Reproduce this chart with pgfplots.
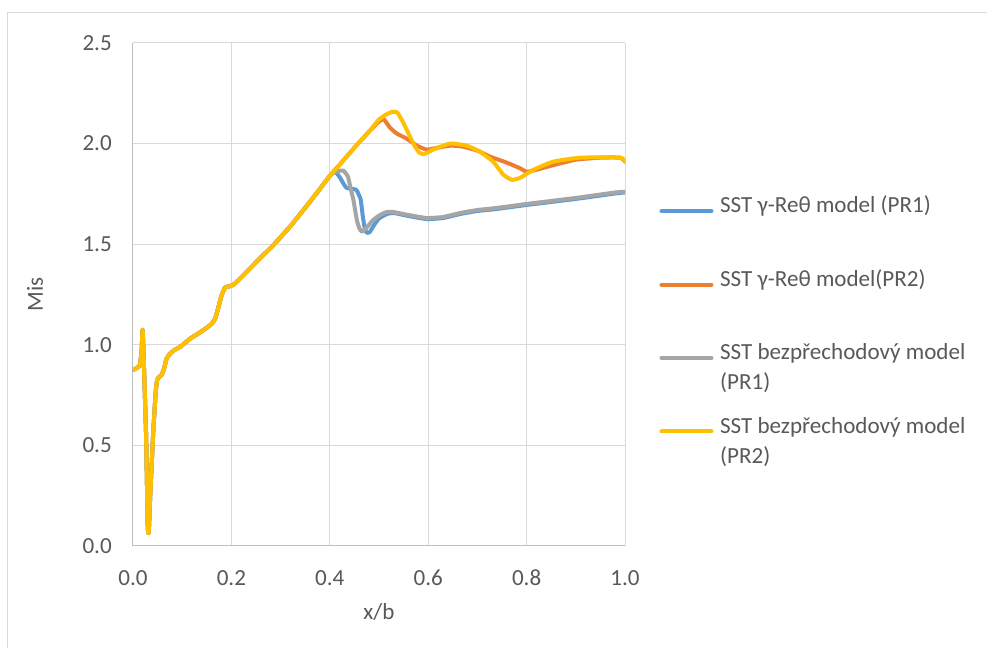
\documentclass[border=0pt]{standalone}
\usepackage{fontspec}
\setmainfont{Carlito}
\usepackage{pgfplots}
\pgfplotsset{compat=1.18}
\definecolor{cblue}{HTML}{5B9BD5}
\definecolor{corange}{HTML}{ED7D31}
\definecolor{cgray}{HTML}{A5A5A5}
\definecolor{cyellow}{HTML}{FFC000}
\definecolor{gridc}{HTML}{D9D9D9}
\definecolor{axisc}{HTML}{BFBFBF}
\definecolor{txtc}{HTML}{595959}
\begin{document}
\begin{tikzpicture}
\useasboundingbox (-99.75pt,-76.5pt) rectangle (640.5pt,409.5pt);
\fill[white] (-99.75pt,-76.5pt) rectangle (640.5pt,409.5pt);
\draw[gridc, line width=0.75pt] (-93.75pt,-120pt) -- (-93.75pt,399.75pt) -- (700pt,399.75pt);
\begin{axis}[
  at={(0,0)}, anchor=south west,
  scale only axis, width=369pt, height=377.25pt,
  xmin=0, xmax=1, ymin=0, ymax=2.5,
  xtick={0,0.2,...,1.0}, ytick={0,0.5,...,2.5},
  axis x line*=bottom, axis y line*=left,
  axis line style={axisc, line width=0.75pt},
  grid=major, major grid style={gridc, line width=0.75pt},
  major tick length=0pt,
  font=\fontsize{17.3pt}{22.5pt}\selectfont,
  tick label style={txtc},
  /pgf/number format/assume math mode=true,
  /pgf/number format/.cd, fixed, fixed zerofill, precision=1, /pgfplots/.cd,
  xticklabel style={anchor=center, yshift=-24pt},
  yticklabel style={anchor=east, inner sep=0pt, xshift=-15.75pt},
  xlabel={x/b}, ylabel={Mis},
  label style={txtc},
  xlabel style={at={(axis description cs:0.5,-0.131)}, anchor=center},
  ylabel style={at={(axis description cs:-0.199,0.5)}, anchor=center},
  legend cell align=left,
  legend style={at={(axis description cs:1.0695,0.7045)}, anchor=north west, draw=none, fill=none, inner sep=0pt,
    row sep=15.3pt, column sep=5pt, text=txtc,
    nodes={inner sep=0pt, align=left}},
  legend image code/.code={\draw[#1] (0pt,5.4pt) -- (37.5pt,5.4pt);},
  every axis plot/.append style={line width=3pt, line join=round, line cap=round, smooth, tension=0.3},
]
% SST gamma-Re theta (PR1)
\addplot[cblue] coordinates {
(0,0.875) (0.008,0.885) (0.014,0.90) (0.0175,0.97) (0.0195,1.075) (0.0215,0.95) (0.0265,0.56) (0.030,0.10) (0.032,0.07) (0.035,0.25) (0.041,0.56) (0.046,0.76) (0.049,0.825) (0.053,0.84) (0.058,0.85) (0.063,0.88) (0.068,0.93) (0.075,0.955) (0.085,0.975) (0.096,0.99) (0.116,1.03) (0.135,1.06) (0.15,1.085) (0.16,1.105) (0.167,1.13) (0.174,1.19) (0.18,1.245) (0.187,1.285) (0.195,1.29) (0.205,1.30) (0.22,1.335) (0.238,1.38) (0.26,1.435) (0.285,1.495) (0.32,1.59) (0.353,1.69) (0.38,1.775) (0.4,1.84)
(0.41,1.86) (0.415,1.85) (0.421,1.83) (0.428,1.80) (0.434,1.78) (0.445,1.775) (0.454,1.77) (0.46,1.74) (0.463,1.72) (0.467,1.64) (0.471,1.58) (0.475,1.557) (0.481,1.56) (0.49,1.595) (0.5,1.628) (0.516,1.65) (0.53,1.655) (0.56,1.64) (0.597,1.625) (0.63,1.63) (0.665,1.65) (0.7,1.665) (0.739,1.675) (0.8,1.695) (0.9,1.725) (0.98,1.752) (1.0,1.757)
};
\addlegendentry{\strut SST γ-Reθ model (PR1)\\\strut}
% SST gamma-Re theta (PR2)
\addplot[corange] coordinates {
(0,0.875) (0.008,0.885) (0.014,0.90) (0.0175,0.97) (0.0195,1.075) (0.0215,0.95) (0.0265,0.56) (0.030,0.10) (0.032,0.07) (0.035,0.25) (0.041,0.56) (0.046,0.76) (0.049,0.825) (0.053,0.84) (0.058,0.85) (0.063,0.88) (0.068,0.93) (0.075,0.955) (0.085,0.975) (0.096,0.99) (0.116,1.03) (0.135,1.06) (0.15,1.085) (0.16,1.105) (0.167,1.13) (0.174,1.19) (0.18,1.245) (0.187,1.285) (0.195,1.29) (0.205,1.30) (0.22,1.335) (0.238,1.38) (0.26,1.435) (0.285,1.495) (0.32,1.59) (0.353,1.69) (0.38,1.775) (0.4,1.84)
(0.42,1.895) (0.45,1.98) (0.48,2.06) (0.5,2.11) (0.51,2.12) (0.522,2.08) (0.536,2.05) (0.556,2.025) (0.577,1.99) (0.597,1.97) (0.62,1.98) (0.645,1.99) (0.67,1.985) (0.7,1.965) (0.726,1.935) (0.76,1.905) (0.787,1.877) (0.8,1.86) (0.82,1.87) (0.85,1.89) (0.9,1.92) (0.95,1.93) (0.99,1.93) (1.0,1.91)
};
\addlegendentry{\strut SST γ-Reθ model(PR2)\\\strut}
% SST bezprechodovy (PR1)
\addplot[cgray] coordinates {
(0,0.875) (0.008,0.885) (0.014,0.90) (0.0175,0.97) (0.0195,1.075) (0.0215,0.95) (0.0265,0.56) (0.030,0.10) (0.032,0.07) (0.035,0.25) (0.041,0.56) (0.046,0.76) (0.049,0.825) (0.053,0.84) (0.058,0.85) (0.063,0.88) (0.068,0.93) (0.075,0.955) (0.085,0.975) (0.096,0.99) (0.116,1.03) (0.135,1.06) (0.15,1.085) (0.16,1.105) (0.167,1.13) (0.174,1.19) (0.18,1.245) (0.187,1.285) (0.195,1.29) (0.205,1.30) (0.22,1.335) (0.238,1.38) (0.26,1.435) (0.285,1.495) (0.32,1.59) (0.353,1.69) (0.38,1.775) (0.4,1.84)
(0.41,1.86) (0.42,1.865) (0.428,1.865) (0.437,1.835) (0.443,1.77) (0.448,1.72) (0.455,1.62) (0.46,1.58) (0.465,1.562) (0.472,1.575) (0.488,1.62) (0.502,1.645) (0.516,1.66) (0.529,1.66) (0.56,1.645) (0.597,1.63) (0.63,1.635) (0.665,1.655) (0.7,1.67) (0.739,1.68) (0.8,1.70) (0.9,1.73) (0.98,1.757) (1.0,1.76)
};
\addlegendentry{\strut SST bezpřechodový model\\\strut (PR1)}
% SST bezprechodovy (PR2)
\addplot[cyellow] coordinates {
(0,0.875) (0.008,0.885) (0.014,0.90) (0.0175,0.97) (0.0195,1.075) (0.0215,0.95) (0.0265,0.56) (0.030,0.10) (0.032,0.07) (0.035,0.25) (0.041,0.56) (0.046,0.76) (0.049,0.825) (0.053,0.84) (0.058,0.85) (0.063,0.88) (0.068,0.93) (0.075,0.955) (0.085,0.975) (0.096,0.99) (0.116,1.03) (0.135,1.06) (0.15,1.085) (0.16,1.105) (0.167,1.13) (0.174,1.19) (0.18,1.245) (0.187,1.285) (0.195,1.29) (0.205,1.30) (0.22,1.335) (0.238,1.38) (0.26,1.435) (0.285,1.495) (0.32,1.59) (0.353,1.69) (0.38,1.775) (0.4,1.84)
(0.42,1.895) (0.45,1.98) (0.48,2.06) (0.5,2.12) (0.515,2.145) (0.527,2.158) (0.537,2.155) (0.548,2.11) (0.56,2.05) (0.572,1.99) (0.582,1.955) (0.592,1.948) (0.61,1.97) (0.644,2.0) (0.678,1.99) (0.705,1.96) (0.732,1.91) (0.753,1.845) (0.77,1.82) (0.787,1.83) (0.814,1.87) (0.854,1.91) (0.909,1.93) (0.99,1.93) (1.0,1.91)
};
\addlegendentry{\strut SST bezpřechodový model\\\strut (PR2)}
\end{axis}
\end{tikzpicture}
\end{document}
